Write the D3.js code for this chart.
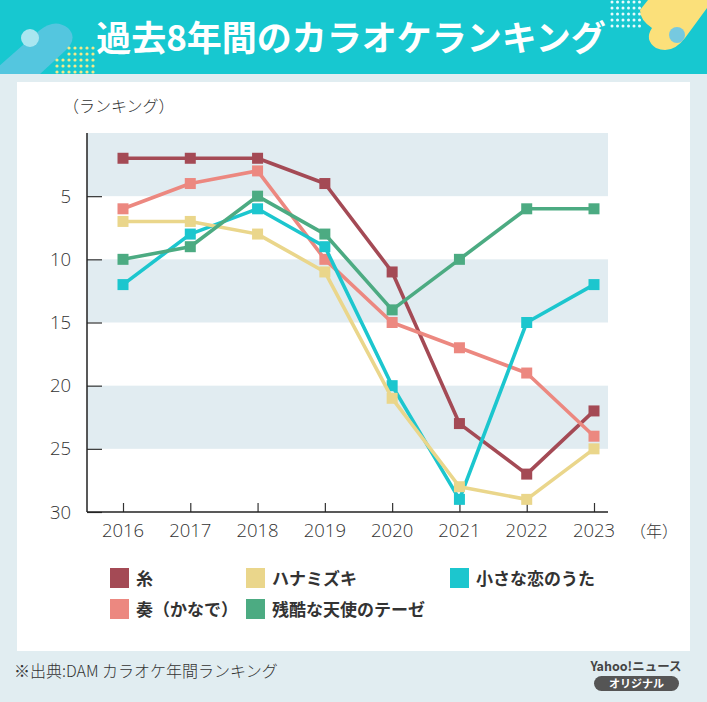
<!DOCTYPE html>
<html><head><meta charset="utf-8">
<script src="https://cdn.jsdelivr.net/npm/d3@7/dist/d3.min.js"></script>
<style>
html,body{margin:0;padding:0;background:#e1edf1;}
svg{display:block;font-family:"Noto Sans CJK JP","Noto Sans",sans-serif;}
.num{font-family:"Open Sans","Noto Sans",sans-serif;}
</style></head><body>
<svg id="c" width="707" height="702"></svg>
<script>
const years = [2016, 2017, 2018, 2019, 2020, 2021, 2022, 2023];
const seriesNames = ["糸", "ハナミズキ", "小さな恋のうた", "奏（かなで）", "残酷な天使のテーゼ"];
const seriesColors = ["#a44a55", "#ead68b", "#1cc6ce", "#ec8880", "#4cab82"];
const ito = [2, 2, 2, 4, 11, 23, 27, 22];
const hanamizuki = [7, 7, 8, 11, 21, 28, 29, 25];
const chiisana = [12, 8, 6, 9, 20, 29, 15, 12];
const kanade = [6, 4, 3, 10, 15, 17, 19, 24];
const zankoku = [10, 9, 5, 8, 14, 10, 6, 6];
const seriesValues = [ito, hanamizuki, chiisana, kanade, zankoku];
const yTicks = [5, 10, 15, 20, 25, 30];
const bands = [[0, 5], [10, 15], [20, 25]];
const drawOrder = [0, 3, 2, 1, 4];

const svg = d3.select("#c");
svg.append("rect").attr("width", 707).attr("height", 702).attr("fill", "#e1edf1");
svg.append("rect").attr("width", 707).attr("height", 74).attr("fill", "#17c8d0");
svg.append("path").attr("d", "M-10,74 L40,30 Q55,18 68,28 Q78,38 66,50 L40,74 Z").attr("fill", "#5fc6e2").attr("opacity", 0.85);
svg.append("circle").attr("cx", 30).attr("cy", 38).attr("r", 9).attr("fill", "#a9e6f0");
const dotG = svg.append("g");
for (let r = 0; r < 5; r++) for (let c = 0; c < 7; c++) {
  if (r < 2 && c < 2) continue;
  dotG.append("circle").attr("cx", 57 + c * 6).attr("cy", 48 + r * 6).attr("r", 1.6).attr("fill", "#f3e98a");
}
const dotR = svg.append("g");
for (let r = 0; r < 5; r++) for (let c = 0; c < 6; c++) {
  dotR.append("circle").attr("cx", 612 + c * 5.5).attr("cy", 2 + r * 6).attr("r", 1.5).attr("fill", "#e9fbfd");
}
svg.append("path").attr("d", "M648,0 L707,0 L707,8 L685,38 Q672,55 656,48 Q644,40 652,28 Q640,20 640,10 Z").attr("fill", "#fbe07a");
svg.append("circle").attr("cx", 677).attr("cy", 35).attr("r", 8).attr("fill", "#76c9e0");
svg.append("text").attr("x", 351).attr("y", 51).attr("text-anchor", "middle")
  .attr("font-size", 35).attr("font-weight", "bold").attr("fill", "#fff").text("過去8年間のカラオケランキング");
svg.append("rect").attr("x", 17).attr("y", 82).attr("width", 673).attr("height", 569).attr("fill", "#fff");

const x = d3.scalePoint().domain(years).range([123, 594]);
const y = d3.scaleLinear().domain([0, 30]).range([133, 512]);
const xLeft = 87, xRight = 608;

svg.append("g").selectAll("rect").data(bands).join("rect")
  .attr("x", xLeft).attr("width", xRight - xLeft)
  .attr("y", d => y(d[0])).attr("height", d => y(d[1]) - y(d[0]))
  .attr("fill", "#e1ecf1");

const yAxis = d3.axisRight(y).tickValues(yTicks).tickSize(15).tickFormat("");
const gy = svg.append("g").attr("transform", `translate(${xLeft},0)`).call(yAxis);
gy.select(".domain").remove();
gy.selectAll(".tick line").attr("stroke", "#333").attr("stroke-width", 1.2);
svg.append("line").attr("x1", xLeft).attr("x2", xLeft).attr("y1", y(0)).attr("y2", y(30)).attr("stroke", "#222").attr("stroke-width", 1.5);
svg.append("g").selectAll("text").data(yTicks).join("text").attr("class", "num")
  .attr("x", 71).attr("y", d => y(d) + 6.5).attr("text-anchor", "end")
  .attr("font-size", 18.5).attr("font-weight", 300).attr("fill", "#333").text(d => d);

const xAxis = d3.axisTop(x).tickSize(9).tickFormat("");
const gx = svg.append("g").attr("transform", `translate(0,${y(30)})`).call(xAxis);
gx.select(".domain").remove();
gx.selectAll(".tick line").attr("stroke", "#333").attr("stroke-width", 1.2);
svg.append("line").attr("x1", xLeft).attr("x2", xRight).attr("y1", y(30)).attr("y2", y(30)).attr("stroke", "#222").attr("stroke-width", 1.5);
svg.append("g").selectAll("text").data(years).join("text").attr("class", "num")
  .attr("x", d => x(d)).attr("y", 537).attr("text-anchor", "middle")
  .attr("font-size", 18.5).attr("font-weight", 300).attr("fill", "#333").text(d => d);
svg.append("text").attr("x", 630).attr("y", 537).attr("font-size", 16).attr("font-weight", 300).attr("fill", "#333").text("（年）");
svg.append("text").attr("x", 63).attr("y", 112).attr("font-size", 16).attr("font-weight", 300).attr("fill", "#333").text("（ランキング）");

const line = d3.line().x((d, i) => x(years[i])).y(d => y(d));
drawOrder.forEach(si => {
  const g = svg.append("g");
  g.append("path").datum(seriesValues[si]).attr("d", line)
    .attr("fill", "none").attr("stroke", seriesColors[si]).attr("stroke-width", 3.6).attr("stroke-linejoin", "round");
  g.selectAll("rect").data(seriesValues[si]).join("rect")
    .attr("x", (d, i) => x(years[i]) - 5.5).attr("y", d => y(d) - 5.5)
    .attr("width", 11).attr("height", 11).attr("fill", seriesColors[si]);
});

const legPos = [[110, 578], [246, 578], [450, 578], [110, 609], [246, 609]];
const lg = svg.append("g").selectAll("g").data(seriesNames).join("g")
  .attr("transform", (d, i) => `translate(${legPos[i][0]},${legPos[i][1]})`);
lg.append("rect").attr("x", 0).attr("y", -10).attr("width", 19).attr("height", 20).attr("fill", (d, i) => seriesColors[i]);
lg.append("text").attr("x", 26).attr("y", 6.5).attr("font-size", 17).attr("font-weight", "bold").attr("fill", "#333").text(d => d);

svg.append("text").attr("x", 14).attr("y", 677).attr("font-size", 16).attr("font-weight", 300).attr("fill", "#333").text("※出典:DAM カラオケ年間ランキング");
svg.append("text").attr("x", 636).attr("y", 671).attr("text-anchor", "middle").attr("font-size", 12.5).attr("font-weight", "bold").attr("fill", "#444").text("Yahoo!ニュース");
svg.append("rect").attr("x", 594).attr("y", 676).attr("width", 85).attr("height", 15).attr("rx", 7.5).attr("fill", "#555");
svg.append("text").attr("x", 636.5).attr("y", 688).attr("text-anchor", "middle").attr("font-size", 11).attr("font-weight", "bold").attr("fill", "#fff").text("オリジナル");
</script>
</body></html>
